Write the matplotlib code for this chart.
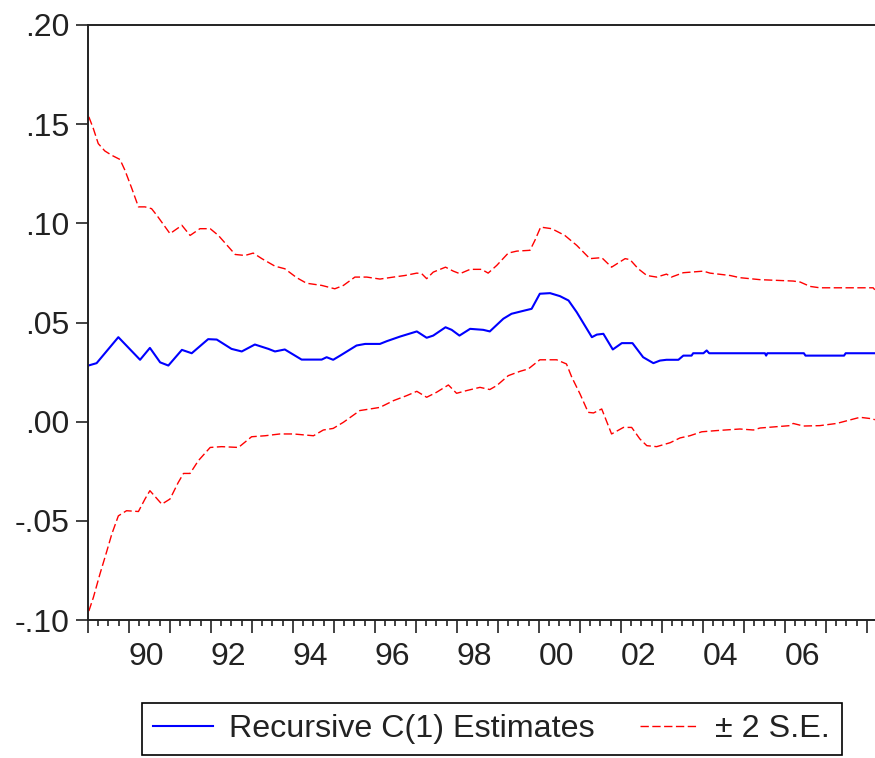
"""
Recursive C(1) estimates with +/- 2 S.E. bands (EViews style)
"""

# Libs
import matplotlib
matplotlib.use("Agg")
import matplotlib.pyplot as plt
from matplotlib.lines import Line2D

# ------------------ Data (decimal year, value)
est_t = [1989.01, 1989.21, 1989.74, 1990.27, 1990.51, 1990.76, 1990.96, 1991.29, 1991.53, 1991.93,
         1992.14, 1992.50, 1992.75, 1993.07, 1993.40, 1993.56, 1993.80, 1994.21, 1994.70, 1994.82,
         1994.98, 1995.15, 1995.55, 1995.76, 1996.12, 1996.29, 1996.61, 1997.02, 1997.26, 1997.42,
         1997.72, 1997.87, 1998.06, 1998.32, 1998.64, 1998.80, 1999.13, 1999.33, 1999.66, 1999.82,
         2000.02, 2000.27, 2000.51, 2000.72, 2000.92, 2001.29, 2001.41, 2001.57, 2001.80, 2002.02,
         2002.28, 2002.54, 2002.79, 2002.95, 2003.11, 2003.40, 2003.52, 2003.72, 2003.76, 2004.01,
         2004.09, 2004.15, 2005.51, 2005.54, 2005.57, 2006.46, 2006.50, 2007.44, 2007.48, 2008.19]
est_v = [0.0283, 0.0295, 0.0426, 0.0312, 0.0372, 0.0299, 0.0283, 0.0362, 0.0345, 0.0416,
         0.0414, 0.0367, 0.0354, 0.0389, 0.0367, 0.0354, 0.0364, 0.0313, 0.0313, 0.0325,
         0.0312, 0.0333, 0.0384, 0.0392, 0.0392, 0.0406, 0.0429, 0.0455, 0.0423, 0.0434,
         0.0476, 0.0463, 0.0434, 0.0468, 0.0463, 0.0455, 0.0519, 0.0544, 0.0561, 0.0569,
         0.0645, 0.0648, 0.0633, 0.0611, 0.0552, 0.0426, 0.0439, 0.0443, 0.0364, 0.0396,
         0.0396, 0.0325, 0.0295, 0.0308, 0.0312, 0.0312, 0.0333, 0.0333, 0.0345, 0.0345,
         0.0359, 0.0345, 0.0345, 0.0333, 0.0345, 0.0345, 0.0333, 0.0333, 0.0345, 0.0345]

upper_t = [1989.02, 1989.13, 1989.25, 1989.41, 1989.58, 1989.78, 1989.90, 1990.07, 1990.23, 1990.39,
           1990.55, 1990.68, 1991.00, 1991.29, 1991.49, 1991.73, 1991.98, 1992.18, 1992.59, 1992.83,
           1993.03, 1993.24, 1993.56, 1993.80, 1994.09, 1994.33, 1994.70, 1995.02, 1995.23, 1995.51,
           1995.80, 1996.12, 1996.45, 1996.73, 1997.02, 1997.14, 1997.26, 1997.42, 1997.72, 1997.91,
           1998.07, 1998.32, 1998.60, 1998.76, 1998.97, 1999.25, 1999.46, 1999.78, 1999.90, 2000.04,
           2000.31, 2000.63, 2000.92, 2001.24, 2001.53, 2001.77, 2002.10, 2002.22, 2002.42, 2002.63,
           2002.87, 2003.11, 2003.23, 2003.52, 2004.01, 2004.17, 2004.66, 2004.90, 2005.39, 2006.20,
           2006.37, 2006.61, 2006.85, 2008.15, 2008.19]
upper_v = [0.1537, 0.1478, 0.1402, 0.1365, 0.1343, 0.1322, 0.1268, 0.1175, 0.1083, 0.1083,
           0.1074, 0.1040, 0.0948, 0.0990, 0.0939, 0.0973, 0.0973, 0.0939, 0.0843, 0.0838,
           0.0850, 0.0822, 0.0784, 0.0771, 0.0726, 0.0698, 0.0687, 0.0670, 0.0687, 0.0729,
           0.0729, 0.0719, 0.0729, 0.0737, 0.0749, 0.0746, 0.0721, 0.0754, 0.0779, 0.0759,
           0.0746, 0.0768, 0.0768, 0.0749, 0.0788, 0.0850, 0.0860, 0.0864, 0.0914, 0.0981,
           0.0973, 0.0939, 0.0889, 0.0822, 0.0827, 0.0779, 0.0822, 0.0817, 0.0771, 0.0737,
           0.0729, 0.0744, 0.0729, 0.0751, 0.0759, 0.0749, 0.0737, 0.0726, 0.0716, 0.0709,
           0.0704, 0.0682, 0.0675, 0.0675, 0.0665]

lower_t = [1989.02, 1989.13, 1989.29, 1989.46, 1989.58, 1989.74, 1989.94, 1990.23, 1990.39, 1990.51,
           1990.80, 1991.00, 1991.20, 1991.33, 1991.49, 1991.69, 1991.98, 1992.26, 1992.67, 1992.99,
           1993.32, 1993.68, 1994.01, 1994.50, 1994.74, 1994.98, 1995.23, 1995.63, 1995.88, 1996.12,
           1996.45, 1996.77, 1997.02, 1997.26, 1997.50, 1997.79, 1997.99, 1998.24, 1998.56, 1998.80,
           1998.97, 1999.25, 1999.54, 1999.74, 2000.02, 2000.43, 2000.67, 2000.80, 2001.00, 2001.20,
           2001.33, 2001.53, 2001.77, 2002.06, 2002.26, 2002.46, 2002.63, 2002.87, 2003.20, 2003.44,
           2003.68, 2003.97, 2004.33, 2004.90, 2005.23, 2005.39, 2006.12, 2006.20, 2006.45, 2006.85,
           2007.26, 2007.59, 2007.83, 2008.15, 2008.19]
lower_v = [-0.0955, -0.0887, -0.0769, -0.0652, -0.0567, -0.0475, -0.0449, -0.0453, -0.0390, -0.0348,
           -0.0416, -0.0390, -0.0307, -0.0261, -0.0261, -0.0197, -0.0130, -0.0126, -0.0130, -0.0076,
           -0.0071, -0.0062, -0.0062, -0.0071, -0.0042, -0.0034, -0.0003, 0.0056, 0.0064, 0.0072,
           0.0106, 0.0131, 0.0153, 0.0123, 0.0148, 0.0185, 0.0143, 0.0157, 0.0173, 0.0162,
           0.0182, 0.0232, 0.0254, 0.0266, 0.0312, 0.0312, 0.0291, 0.0224, 0.0140, 0.0047,
           0.0044, 0.0064, -0.0062, -0.0029, -0.0029, -0.0087, -0.0121, -0.0126, -0.0106, -0.0082,
           -0.0071, -0.0051, -0.0045, -0.0037, -0.0042, -0.0032, -0.0020, -0.0009, -0.0022, -0.0020,
           -0.0009, 0.0009, 0.0022, 0.0014, 0.0009]

y_ticks = [0.20, 0.15, 0.10, 0.05, 0.00, -0.05, -0.10]
y_tick_labels = [".20", ".15", ".10", ".05", ".00", "-.05", "-.10"]
years = list(range(1989, 2009))
labelled_years = [1990, 1992, 1994, 1996, 1998, 2000, 2002, 2004, 2006]
legend_labels = ["Recursive C(1) Estimates", "\u00b1 2 S.E."]

# ------------------ Figure
plt.rcParams["font.family"] = ["Liberation Sans", "DejaVu Sans"]
plt.rcParams["font.size"] = 23

fig = plt.figure(figsize=(8.75, 7.58), dpi=100)
ax = fig.add_axes([88 / 875, 1 - 620 / 758, 1 - 88 / 875, 595 / 758])

red_dash = (0, (6, 2.5))
ax.plot(upper_t, upper_v, color="#ff0000", linewidth=1.0, linestyle=red_dash)
ax.plot(lower_t, lower_v, color="#ff0000", linewidth=1.0, linestyle=red_dash)
ax.plot(est_t, est_v, color="#0000ff", linewidth=1.5)

ax.set_xlim(1989, 1989 + (875 - 88) / 41)
ax.set_ylim(-0.10, 0.20)

# --> y axis
ax.set_yticks(y_ticks)
ax.set_yticklabels(y_tick_labels)
ax.tick_params(axis="y", length=8.6, width=1.2, pad=5, colors="#222222")

# --> x axis: yearly major ticks, quarterly minor ticks, labels on even years
ax.set_xticks(years)
ax.set_xticklabels(["%02d" % (y % 100) if y in labelled_years else "" for y in years],
                   ha="left")
ax.set_xticks([y + q / 4 for y in years[:-1] for q in (1, 2, 3)], minor=True)
ax.tick_params(axis="x", which="major", length=9.5, width=1.2, pad=6, colors="#222222")
ax.tick_params(axis="x", which="minor", length=4, width=1.2, colors="#222222")

ax.spines["right"].set_visible(False)
for side in ["left", "bottom", "top"]:
    ax.spines[side].set_linewidth(1.4)
    ax.spines[side].set_color("#222222")

# --> legend
handles = [Line2D([], [], color="#0000ff", linewidth=1.5),
           Line2D([], [], color="#ff0000", linewidth=1.0, linestyle=red_dash)]
leg = fig.legend(handles, legend_labels, loc="center", bbox_to_anchor=(0.562, 0.038),
                 ncol=2, fancybox=False, edgecolor="black", framealpha=1, fontsize=23.2,
                 handlelength=1.85, handletextpad=0.5, columnspacing=1.4, borderpad=0.35)
leg.get_frame().set_linewidth(1.2)
for txt in leg.get_texts():
    txt.set_color("#222222")

fig.savefig("out.png", dpi=100)
